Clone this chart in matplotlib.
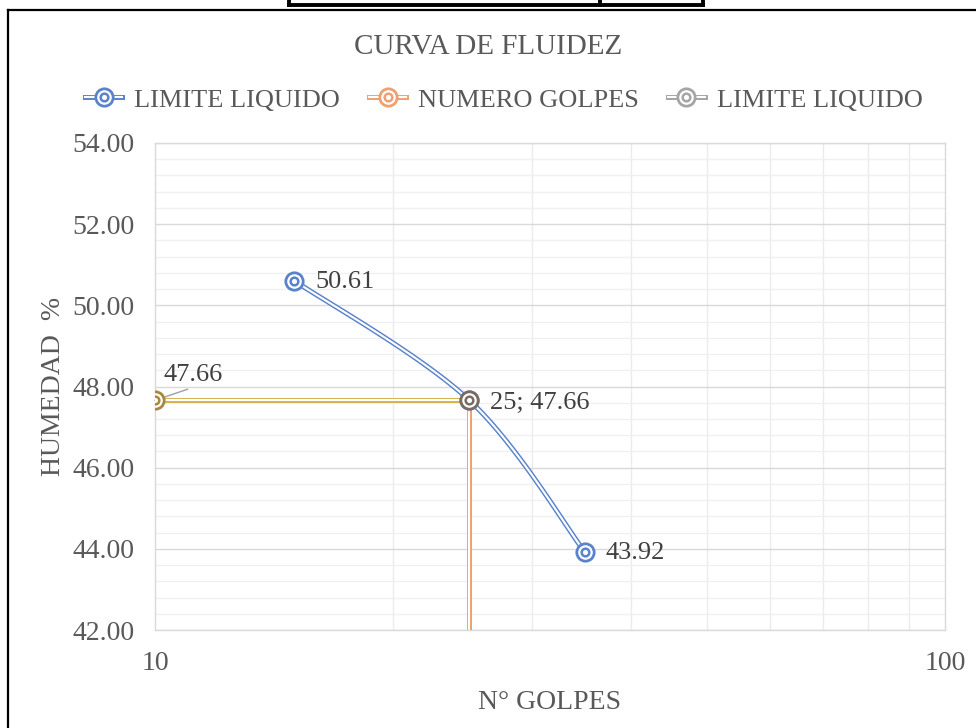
import numpy as np
import matplotlib
matplotlib.use('Agg')
import matplotlib.pyplot as plt
from matplotlib.lines import Line2D
from matplotlib.legend_handler import HandlerTuple
from matplotlib.ticker import FixedLocator, NullFormatter

# datos del ensayo
golpes = [15, 25, 35]
humedad = [50.61, 47.66, 43.92]
lim_x = [25]
lim_y = [47.66]
vert_x = [25, 25]
vert_y = [42.0, 47.66]
horiz_x = [10, 25]
horiz_y = [47.66, 47.66]
lbl_curva = ['50.61', None, '43.92']

plt.rcParams['font.family'] = ['Liberation Serif', 'DejaVu Serif']
TXT = '#595959'
BLUE, ORANGE, GREY, GOLD = '#5B83CC', '#F0A070', '#A5A5A5', '#D4B24E'

XMIN, XMAX, YMIN, YMAX = 10, 100, 42, 54


def excel_smooth(xs, ys, n=60):
    # suavizado tipo Excel (bezier) en espacio normalizado log-x
    u = (np.log10(xs) - np.log10(XMIN)) / (np.log10(XMAX) - np.log10(XMIN)) * 790
    v = (np.array(ys) - YMIN) / (YMAX - YMIN) * 487
    P = np.column_stack([u, v])
    Pp = np.vstack([P[0], P, P[-1]])
    out = []
    t = np.linspace(0, 1, n)[:, None]
    for i in range(len(P) - 1):
        p0, p3 = Pp[i + 1], Pp[i + 2]
        c1 = p0 + (Pp[i + 2] - Pp[i]) / 6
        c2 = p3 - (Pp[i + 3] - Pp[i + 1]) / 6
        seg = (1 - t)**3 * p0 + 3 * (1 - t)**2 * t * c1 + 3 * (1 - t) * t**2 * c2 + t**3 * p3
        out.append(seg)
    S = np.vstack(out)
    sx = 10 ** (S[:, 0] / 790 * (np.log10(XMAX) - np.log10(XMIN)) + np.log10(XMIN))
    sy = S[:, 1] / 487 * (YMAX - YMIN) + YMIN
    return sx, sy


def double_line(ax, x, y, color, z):
    ax.plot(x, y, color=color, lw=3.6, zorder=z, solid_capstyle='butt')
    ax.plot(x, y, color='white', lw=1.5, zorder=z + 0.1, solid_capstyle='butt')


def double_marker(ax, x, y, color, z):
    ax.plot(x, y, ls='none', marker='o', ms=12.5, mfc='white', mec=color, mew=2.0, zorder=z)
    ax.plot(x, y, ls='none', marker='o', ms=5.5, mfc='white', mec=color, mew=1.8, zorder=z + 0.1)


fig = plt.figure(figsize=(9.76, 7.28), dpi=100)
ax = fig.add_axes([155 / 976, 1 - 630 / 728, 790 / 976, 487 / 728])
ax.set_xscale('log')
ax.set_xlim(XMIN, XMAX)
ax.set_ylim(YMIN, YMAX)

# grilla
ax.set_yticks(np.arange(42, 54.1, 2))
ax.yaxis.set_minor_locator(FixedLocator(np.arange(42, 54.01, 0.4)))
ax.set_xticks([10, 100])
ax.set_xticklabels(['10', '100'])
ax.xaxis.set_minor_locator(FixedLocator(np.arange(20, 100, 10)))
ax.xaxis.set_minor_formatter(NullFormatter())
ax.set_yticklabels([f'{v:.2f}' for v in np.arange(42, 54.1, 2)])
ax.grid(True, which='major', axis='y', color='#D9D9D9', lw=1.0)
ax.grid(True, which='minor', axis='y', color='#F0F0F0', lw=1.0)
ax.grid(True, which='minor', axis='x', color='#EBEBEB', lw=1.0)
ax.set_axisbelow(True)
for s in ax.spines.values():
    s.set_color('#D9D9D9')
    s.set_linewidth(1.0)
ax.tick_params(which='both', length=0, colors=TXT, labelsize=20)
ax.tick_params(axis='y', pad=15)
ax.tick_params(axis='x', pad=15)

# series
sx, sy = excel_smooth(golpes, humedad)
double_line(ax, sx, sy, BLUE, 3)
double_line(ax, vert_x, vert_y, ORANGE, 3.5)
double_line(ax, horiz_x, horiz_y, GOLD, 4)
double_marker(ax, golpes, humedad, BLUE, 5)
double_marker(ax, horiz_x[:1], horiz_y[:1], '#A8893A', 5)
double_marker(ax, lim_x, lim_y, '#7A6B63', 6)

for x, y, t in zip(golpes, humedad, lbl_curva):
    if t:
        ax.annotate(t, (x, y), xytext=(15, -1), textcoords='offset points',
                    ha='left', va='center', fontsize=19, color='#404040')
ax.annotate(f'{lim_x[0]}; {lim_y[0]:.2f}', (lim_x[0], lim_y[0]), xytext=(15, -2),
            textcoords='offset points', ha='left', va='center', fontsize=19, color='#404040')
ax.annotate(f'{horiz_y[0]:.2f}', (horiz_x[0], horiz_y[0]), xytext=(6, 10),
            textcoords='offset points', ha='left', va='bottom', fontsize=19, color='#404040',
            arrowprops=dict(arrowstyle='-', color='#A0A0A0', lw=1.0, shrinkA=0, shrinkB=0,
                            relpos=(0.55, 0.0)))

ax.set_xlabel('N° GOLPES', fontsize=20, color=TXT, labelpad=10)
ax.set_ylabel('HUMEDAD  %', fontsize=20, color=TXT, labelpad=4)

fig.text(0.5, 1 - 47 / 728, 'CURVA DE FLUIDEZ', ha='center', va='center', fontsize=21, color=TXT)


# leyenda
def leg_handle(color):
    return (Line2D([], [], color=color, lw=3.6),
            Line2D([], [], color='white', lw=1.5),
            Line2D([], [], ls='none', marker='o', ms=12.5, mfc='white', mec=color, mew=2.0),
            Line2D([], [], ls='none', marker='o', ms=5.5, mfc='white', mec=color, mew=1.8))


fig.legend([leg_handle(BLUE), leg_handle(ORANGE), leg_handle(GREY)],
           ['LIMITE LIQUIDO', 'NUMERO GOLPES', 'LIMITE LIQUIDO'],
           handler_map={tuple: HandlerTuple(ndivide=1, pad=0)},
           loc='center', bbox_to_anchor=(0.5 + 16 / 976, 1 - 100 / 728), ncol=3, frameon=False,
           fontsize=19, labelcolor=TXT, handlelength=1.4, handletextpad=0.45,
           columnspacing=1.1, numpoints=1)

# marco de la hoja
fig.add_artist(Line2D([8 / 976, 8 / 976], [0, 1 - 10 / 728], color='black', lw=1.6,
                      transform=fig.transFigure))
fig.add_artist(Line2D([8 / 976, 1], [1 - 10 / 728, 1 - 10 / 728], color='black', lw=1.6,
                      transform=fig.transFigure))
for xs_, ys_ in [([289 / 976, 289 / 976], [1 - 5 / 728, 1]),
                 ([703 / 976, 703 / 976], [1 - 5 / 728, 1]),
                 ([600 / 976, 600 / 976], [1 - 5 / 728, 1]),
                 ([289 / 976, 703 / 976], [1 - 5 / 728, 1 - 5 / 728])]:
    fig.add_artist(Line2D(xs_, ys_, color='black', lw=2.8, transform=fig.transFigure))

plt.savefig('out.png', dpi=100)
